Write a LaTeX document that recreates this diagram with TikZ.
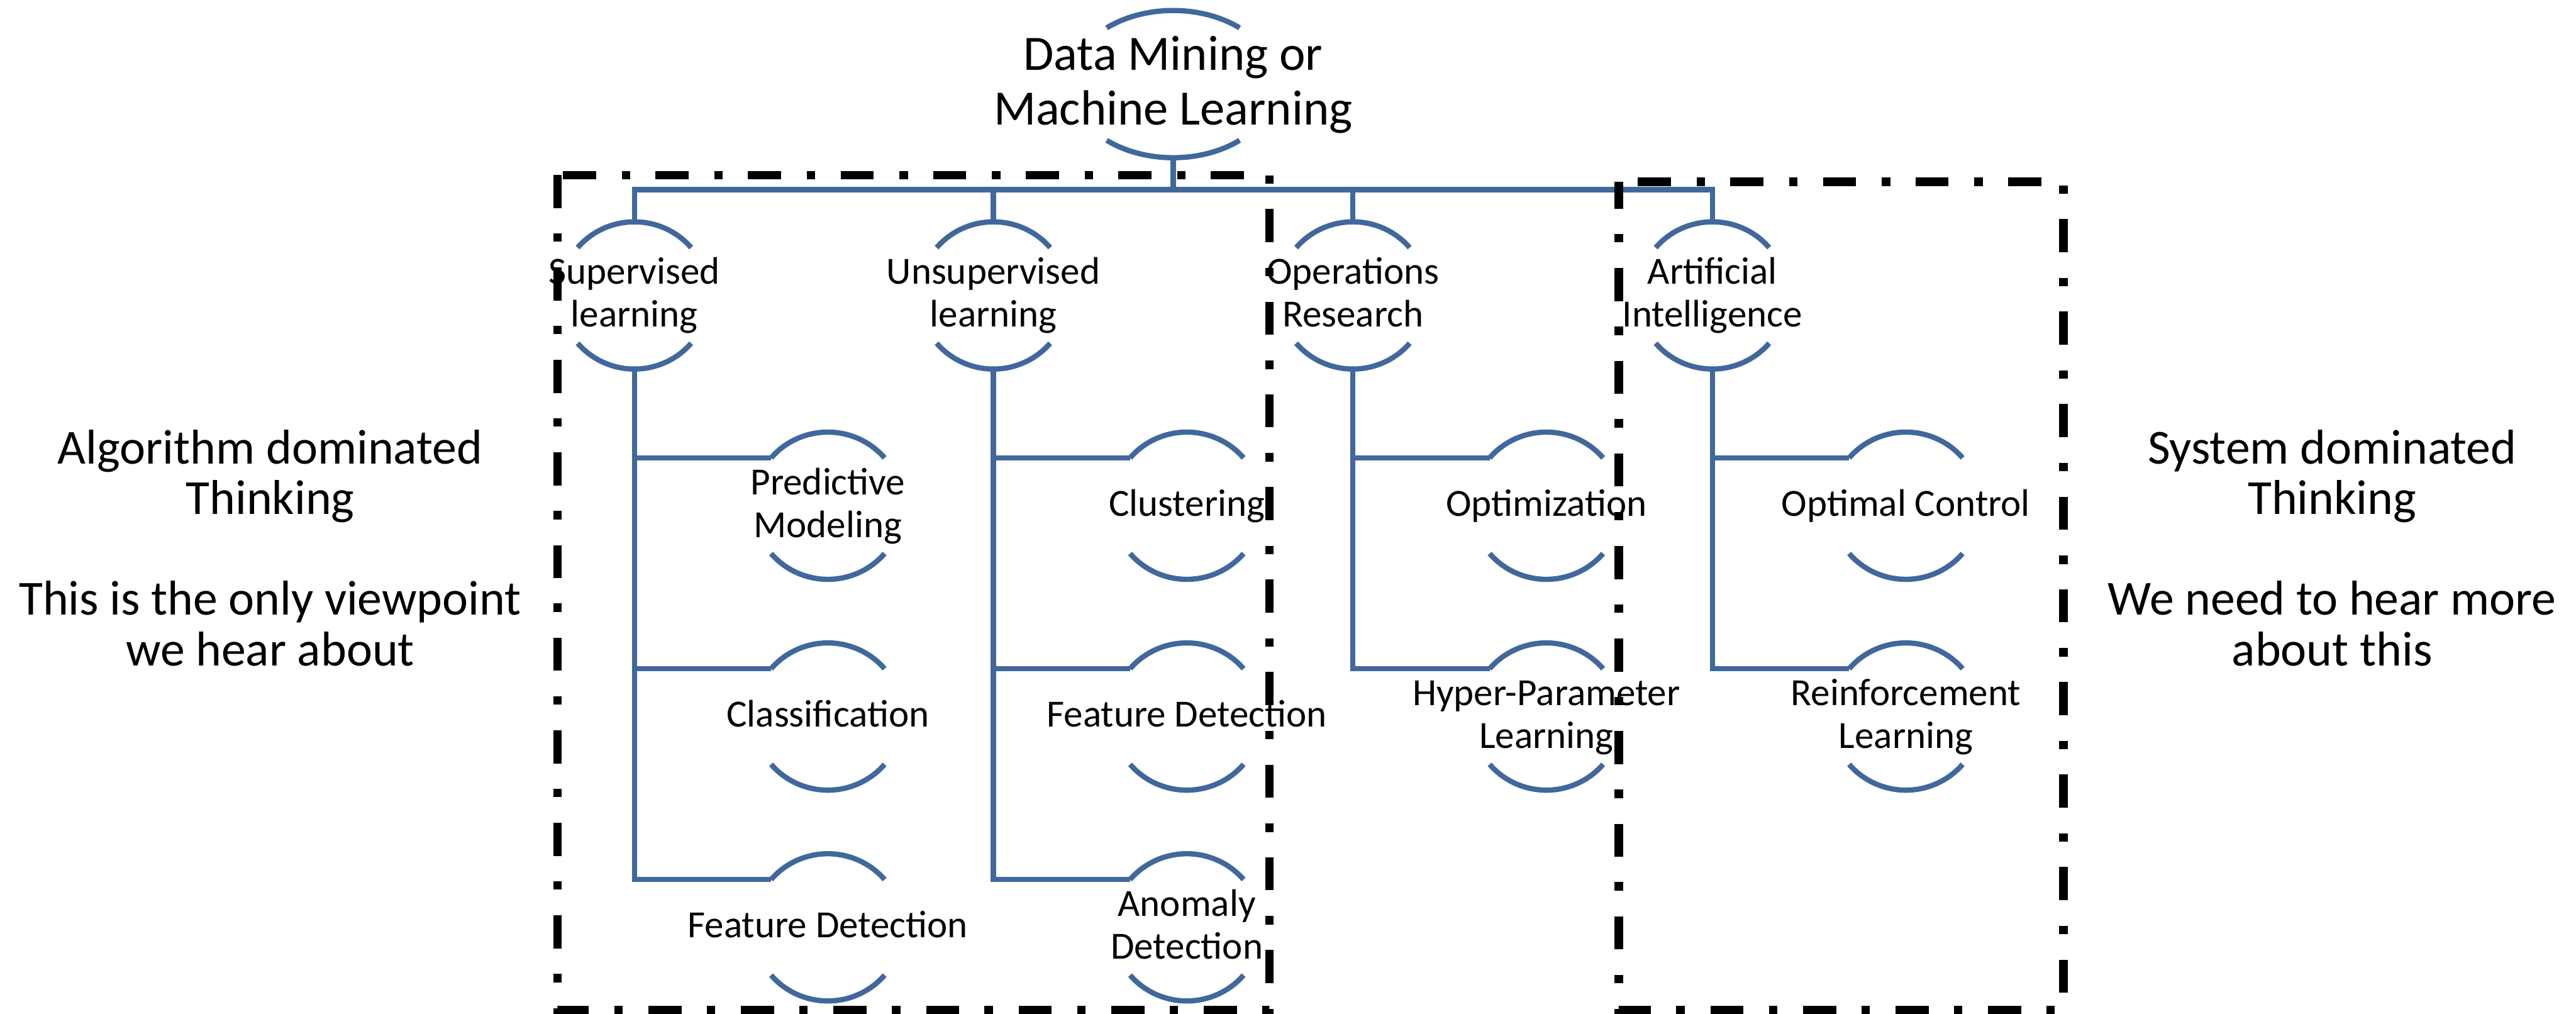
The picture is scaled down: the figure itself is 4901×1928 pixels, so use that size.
\documentclass[tikz,border=0pt]{standalone}
\usepackage{fontspec}
\setmainfont{Carlito}
\definecolor{lineblue}{RGB}{64,104,156}
\tikzset{
  conn/.style={draw=lineblue, line width=0.10cm, line join=miter},
  lbl/.style={inner sep=0pt, font=\fontsize{20.77pt}{23.05pt}\selectfont},
  rootlbl/.style={inner sep=0pt, font=\fontsize{26.75pt}{29.6pt}\selectfont},
  sidelbl/.style={inner sep=0pt, font=\fontsize{26.46pt}{27.3pt}\selectfont},
  framebox/.style={draw=black, line width=0.16cm, dash pattern=on 0.63cm off 0.49cm on 0.16cm off 0.48cm}
}
% #1 name, #2 cx, #3 Yc, #4 half width a (px), #5 arc angle, #6 baseline offset, #7 style, #8 text
\newcommand\mlnode[8]{%
  \pgfmathsetmacro\mlra{#4*0.01}%
  \draw[conn] ({#2+#4*cos(#5)},{#3+140*sin(#5)}) arc[start angle=#5, end angle={180-#5}, x radius=\mlra cm, y radius=1.4cm];
  \draw[conn] ({#2-#4*cos(#5)},{#3-140*sin(#5)}) arc[start angle={180+#5}, end angle={360-#5}, x radius=\mlra cm, y radius=1.4cm];
  \coordinate (#1-t) at (#2,{#3+140});
  \coordinate (#1-b) at (#2,{#3-140});
  \coordinate (#1-l) at ({#2-#4*cos(#5)},{#3+140*sin(#5)});
  \node[#7, anchor=base] (#1) at (#2,{#3+#6}) {\begin{tabular}[t]{@{}c@{}}#8\end{tabular}};
}
\begin{document}
\begin{tikzpicture}[x=0.01cm, y=0.01cm]
\useasboundingbox (0,0) rectangle (4901,1928);

% root
\mlnode{root}{2232}{1768}{196}{49.8}{27}{rootlbl}{Data Mining or\\Machine Learning}

% level 1
\mlnode{sup}{1207}{1366}{142}{40.5}{22}{lbl}{Supervised\\learning}
\mlnode{uns}{1890}{1366}{142}{40.5}{22}{lbl}{Unsupervised\\learning}
\mlnode{ops}{2574}{1366}{142}{40.5}{22}{lbl}{Operations\\Research}
\mlnode{ai}{3258}{1366}{142}{40.5}{22}{lbl}{Artificial\\Intelligence}

% level 2
\mlnode{pm}{1575}{966}{142}{40.5}{21}{lbl}{Predictive\\Modeling}
\mlnode{cls}{1575}{565}{142}{40.5}{-20}{lbl}{Classification}
\mlnode{fda}{1575}{164}{142}{40.5}{-20}{lbl}{Feature Detection}
\mlnode{clu}{2258}{966}{142}{40.5}{-20}{lbl}{Clustering}
\mlnode{fdb}{2258}{565}{142}{40.5}{-20}{lbl}{Feature Detection}
\mlnode{ano}{2258}{164}{142}{40.5}{21}{lbl}{Anomaly\\Detection}
\mlnode{opt}{2942}{966}{142}{40.5}{-20}{lbl}{Optimization}
\mlnode{hyp}{2942}{565}{142}{40.5}{21}{lbl}{Hyper-Parameter\\Learning}
\mlnode{oc}{3626}{966}{142}{40.5}{-20}{lbl}{Optimal Control}
\mlnode{rl}{3626}{565}{142}{40.5}{21}{lbl}{Reinforcement\\Learning}

% connectors
\coordinate (bus) at (2232,1567);
\draw[conn] (root-b) -- (bus);
\draw[conn] (sup-t) |- (bus) -| (ai-t);
\draw[conn] (uns-t) -- (uns-t |- bus);
\draw[conn] (ops-t) -- (ops-t |- bus);

\draw[conn] (sup-b) |- (pm-l);
\draw[conn] (sup-b) |- (cls-l);
\draw[conn] (sup-b) |- (fda-l);
\draw[conn] (uns-b) |- (clu-l);
\draw[conn] (uns-b) |- (fdb-l);
\draw[conn] (uns-b) |- (ano-l);
\draw[conn] (ops-b) |- (opt-l);
\draw[conn] (ops-b) |- (hyp-l);
\draw[conn] (ai-b) |- (oc-l);
\draw[conn] (ai-b) |- (rl-l);

% side texts
\node[sidelbl, anchor=base] (left) at (514,1046) {\begin{tabular}[t]{@{}c@{}}Algorithm dominated\\Thinking\\ \\This is the only viewpoint\\we hear about\end{tabular}};
\node[sidelbl, anchor=base] (right) at (4437,1046) {\begin{tabular}[t]{@{}c@{}}System dominated\\Thinking\\ \\We need to hear more\\about this\end{tabular}};

% dash-dot frames
\draw[framebox, dash phase=1.66cm] (1061,1595) -- (2415,1595) -- (2415,7) -- (1061,7) -- cycle;
\draw[framebox, dash phase=1.40cm] (3080,1582) -- (3926,1582) -- (3926,7) -- (3080,7) -- cycle;
\end{tikzpicture}
\end{document}
